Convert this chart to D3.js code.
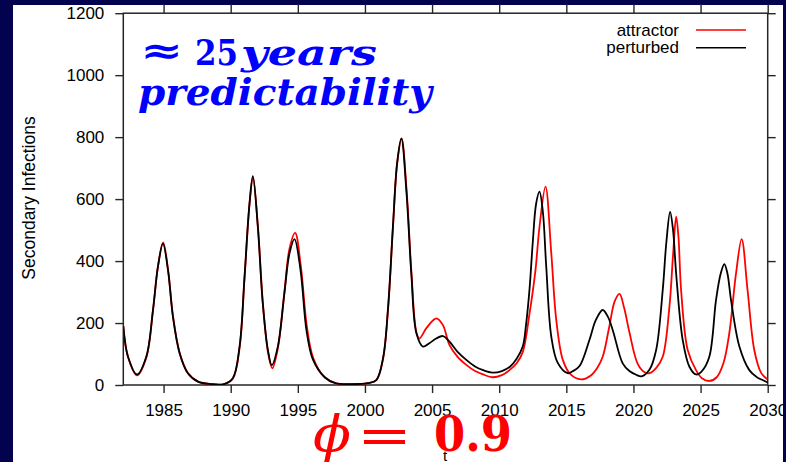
<!DOCTYPE html>
<html>
<head>
<meta charset="utf-8">
<script src="https://cdn.jsdelivr.net/npm/d3@7"></script>
<style>
  html, body { margin: 0; padding: 0; background: #02024f; }
  svg { display: block; }
  .tick text { font-family: "Liberation Sans", Arial, sans-serif; font-size: 17px; fill: #000; }
</style>
</head>
<body>
<svg id="chart" width="786" height="462"></svg>
<script>
// Axis ticks
const xTickYears = [1985, 1990, 1995, 2000, 2005, 2010, 2015, 2020, 2025, 2030];
const yTickValues = [0, 200, 400, 600, 800, 1000, 1200];

// Series: attractor trajectory (red)
const attractorYears = [
  1982.0, 1982.35, 1983.02, 1983.71, 1984.21, 1984.58, 1984.97, 1985.33, 1985.7, 1986.2,
  1986.81, 1987.56, 1988.5, 1989.5, 1990.16, 1990.66, 1991.03, 1991.4, 1991.66, 1992.02,
  1992.39, 1992.77, 1993.1, 1993.51, 1994.0, 1994.38, 1994.8, 1995.22, 1995.67, 1996.14,
  1997.0, 1997.8, 1999.0, 2000.2, 2000.85, 2001.35, 2001.72, 2002.09, 2002.4, 2002.73,
  2003.1, 2003.46, 2003.83, 2004.05, 2004.6, 2005.32, 2005.8, 2006.3, 2006.9, 2007.55,
  2008.2, 2008.8, 2009.5, 2010.2, 2010.77, 2011.3, 2011.76, 2012.26, 2012.7, 2013.0,
  2013.45, 2013.88, 2014.25, 2014.74, 2015.3, 2016.1, 2016.8, 2017.3, 2017.71, 2018.2,
  2018.6, 2018.96, 2019.3, 2019.7, 2020.3, 2020.8, 2021.2, 2021.7, 2022.18, 2022.68,
  2022.95, 2023.18, 2023.35, 2023.55, 2024.04, 2024.66, 2025.1, 2025.65, 2026.2, 2026.7,
  2027.14, 2027.64, 2028.06, 2028.5, 2029.0, 2029.5, 2029.87, 2030.0
];
const attractorValues = [
  190, 91, 31, 88, 240, 382, 460, 373, 222, 103,
  39, 11, 3, 3, 21, 120, 345, 582, 670, 515,
  268, 108, 54, 118, 300, 440, 491, 385, 190, 88,
  25, 6, 3, 6, 16, 85, 245, 512, 715, 795,
  630, 365, 170, 150, 185, 215, 194, 129, 91, 65,
  45, 34, 25, 32, 48, 70, 107, 231, 370, 510,
  640, 425, 210, 81, 35, 18, 30, 55, 91, 188,
  270, 294, 250, 170, 70, 42, 38, 55, 91, 253,
  420, 543, 480, 306, 113, 48, 22, 13, 25, 70,
  167, 360, 471, 306, 113, 40, 22, 18
];

// Series: perturbed trajectory (black)
const perturbedYears = [
  1982.0, 1982.35, 1983.02, 1983.71, 1984.21, 1984.58, 1984.95, 1985.33, 1985.7, 1986.2,
  1986.81, 1987.56, 1988.5, 1989.5, 1990.16, 1990.66, 1991.03, 1991.4, 1991.65, 1992.02,
  1992.39, 1992.77, 1993.06, 1993.51, 1994.0, 1994.38, 1994.75, 1995.2, 1995.65, 1996.12,
  1997.0, 1997.8, 1999.0, 2000.2, 2000.85, 2001.35, 2001.72, 2002.09, 2002.4, 2002.71,
  2003.09, 2003.46, 2003.83, 2004.32, 2004.8, 2005.3, 2005.81, 2006.3, 2006.9, 2007.55,
  2008.2, 2008.8, 2009.5, 2010.2, 2010.8, 2011.3, 2011.76, 2012.0, 2012.26, 2012.5,
  2012.75, 2013.0, 2013.25, 2013.5, 2013.88, 2014.35, 2015.1, 2015.5, 2016.0, 2016.72,
  2017.2, 2017.71, 2018.1, 2018.46, 2019.2, 2019.7, 2020.2, 2020.6, 2021.2, 2021.69,
  2022.18, 2022.45, 2022.73, 2022.95, 2023.18, 2023.67, 2024.17, 2024.66, 2025.1, 2025.65,
  2026.15, 2026.5, 2026.77, 2027.0, 2027.27, 2027.89, 2028.63, 2029.2, 2029.62, 2030.0
];
const perturbedValues = [
  190, 91, 34, 91, 242, 382, 457, 371, 220, 102,
  38, 11, 3, 3, 22, 124, 349, 586, 674, 511,
  263, 113, 64, 124, 296, 425, 471, 371, 175, 83,
  25, 6, 3, 6, 16, 87, 248, 516, 718, 796,
  624, 355, 168, 124, 135, 150, 158, 140, 107, 81,
  60, 48, 40, 45, 59, 85, 125, 195, 310, 460,
  585, 624, 560, 385, 156, 72, 38, 45, 62, 145,
  210, 242, 220, 177, 70, 45, 33, 28, 50, 113,
  306, 460, 559, 500, 360, 145, 59, 34, 45, 91,
  274, 360, 390, 360, 274, 124, 48, 25, 16, 8
];

const seriesNames = ["attractor", "perturbed"];
const seriesColors = ["#ff0000", "#000000"];

const svg = d3.select("#chart");
const W = 786, H = 462;

// White page panel
svg.append("rect")
  .attr("x", 13).attr("y", 5).attr("width", 770).attr("height", H - 5)
  .attr("fill", "#ffffff");

const plot = { left: 123.3, right: 767.7, top: 13.2, bottom: 385 };

const x = d3.scaleLinear().domain([1982, 2030]).range([plot.left, plot.right]);
const y = d3.scaleLinear().domain([0, 1200]).range([plot.bottom, plot.top]);

const defs = svg.append("defs");
defs.append("clipPath").attr("id", "plot-clip")
  .append("rect")
  .attr("x", plot.left).attr("y", plot.top)
  .attr("width", plot.right - plot.left).attr("height", plot.bottom - plot.top);
defs.append("clipPath").attr("id", "page-clip")
  .append("rect").attr("x", 13).attr("y", 0).attr("width", 770).attr("height", H);

const page = svg.append("g").attr("clip-path", "url(#page-clip)");

const axisColor = "#262626";
function styleAxis(g) {
  g.select(".domain").remove();
  g.selectAll(".tick line").attr("stroke", axisColor).attr("stroke-width", 1.4);
}

// Bottom axis with labels
page.append("g")
  .attr("transform", `translate(0,${plot.bottom})`)
  .call(d3.axisBottom(x).tickValues(xTickYears).tickFormat(d3.format("d"))
        .tickSize(8).tickSizeOuter(0).tickPadding(11))
  .call(styleAxis);

// Top axis: mirrored ticks only
page.append("g")
  .attr("transform", `translate(0,${plot.top})`)
  .call(d3.axisTop(x).tickValues(xTickYears).tickFormat("")
        .tickSize(9).tickSizeOuter(0))
  .call(styleAxis);

// Left axis with labels
page.append("g")
  .attr("transform", `translate(${plot.left},0)`)
  .call(d3.axisLeft(y).tickValues(yTickValues).tickFormat(d3.format("d"))
        .tickSize(8).tickSizeOuter(0).tickPadding(11))
  .call(styleAxis);

// Right axis: mirrored ticks only
page.append("g")
  .attr("transform", `translate(${plot.right},0)`)
  .call(d3.axisRight(y).tickValues(yTickValues).tickFormat("")
        .tickSize(8).tickSizeOuter(0))
  .call(styleAxis);

// Plot border
page.append("rect")
  .attr("x", plot.left).attr("y", plot.top)
  .attr("width", plot.right - plot.left).attr("height", plot.bottom - plot.top)
  .attr("fill", "none").attr("stroke", axisColor).attr("stroke-width", 1.5);

// Axis titles
page.append("text")
  .attr("transform", `translate(35,198) rotate(-90)`)
  .attr("text-anchor", "middle")
  .attr("font-family", "Liberation Sans, Arial, sans-serif")
  .attr("font-size", 17.5)
  .text("Secondary Infections");

page.append("text")
  .attr("x", 445).attr("y", 461)
  .attr("text-anchor", "middle")
  .attr("font-family", "Liberation Sans, Arial, sans-serif")
  .attr("font-size", 15)
  .text("t");

// Curves
const line = d3.line()
  .x(d => x(d[0]))
  .y(d => y(d[1]))
  .curve(d3.curveCatmullRom.alpha(0.5));

const seriesData = [
  d3.zip(attractorYears, attractorValues),
  d3.zip(perturbedYears, perturbedValues)
];

const lines = page.append("g").attr("clip-path", "url(#plot-clip)");
seriesData.forEach((pts, i) => {
  lines.append("path")
    .datum(pts)
    .attr("fill", "none")
    .attr("stroke", seriesColors[i])
    .attr("stroke-width", 1.8)
    .attr("stroke-linejoin", "round")
    .attr("d", line);
});

// Legend
const legend = page.append("g");
seriesNames.forEach((name, i) => {
  const ly = 30 + i * 17.7;
  legend.append("text")
    .attr("x", 679).attr("y", ly + 5.5)
    .attr("text-anchor", "end")
    .attr("font-family", "Liberation Sans, Arial, sans-serif")
    .attr("font-size", 17)
    .text(name);
  legend.append("line")
    .attr("x1", 696).attr("x2", 746)
    .attr("y1", ly).attr("y2", ly)
    .attr("stroke", seriesColors[i]).attr("stroke-width", 1.6);
});

// Annotation: predictability horizon
const serif = "DejaVu Serif, Liberation Serif, serif";
const blue = "#0000ff";
page.append("text")
  .attr("x", 140).attr("y", 63)
  .attr("font-family", serif).attr("font-weight", "bold")
  .attr("font-size", 36).attr("fill", blue)
  .attr("textLength", 43).attr("lengthAdjust", "spacingAndGlyphs")
  .text("≈");
page.append("text")
  .attr("x", 195).attr("y", 65)
  .attr("font-family", serif).attr("font-weight", "bold")
  .attr("font-size", 35).attr("fill", blue)
  .attr("textLength", 43).attr("lengthAdjust", "spacingAndGlyphs")
  .text("25");
page.append("text")
  .attr("x", 241).attr("y", 65)
  .attr("font-family", serif).attr("font-weight", "bold").attr("font-style", "italic")
  .attr("font-size", 36).attr("fill", blue)
  .attr("textLength", 136).attr("lengthAdjust", "spacingAndGlyphs")
  .text("years");
page.append("text")
  .attr("x", 138).attr("y", 105)
  .attr("font-family", serif).attr("font-weight", "bold").attr("font-style", "italic")
  .attr("font-size", 37).attr("fill", blue)
  .attr("textLength", 294).attr("lengthAdjust", "spacingAndGlyphs")
  .text("predictability");

// Annotation: coupling parameter
const red = "#ff0000";
page.append("text")
  .attr("x", 313).attr("y", 451)
  .attr("font-family", serif).attr("font-style", "italic")
  .attr("font-size", 50).attr("fill", red)
  .attr("textLength", 38).attr("lengthAdjust", "spacingAndGlyphs")
  .text("ϕ");
page.append("text")
  .attr("x", 357).attr("y", 453)
  .attr("font-family", serif)
  .attr("font-size", 50).attr("fill", red)
  .attr("textLength", 55).attr("lengthAdjust", "spacingAndGlyphs")
  .text("=");
page.append("text")
  .attr("x", 434).attr("y", 451)
  .attr("font-family", serif).attr("font-weight", "bold")
  .attr("font-size", 48).attr("fill", red)
  .attr("textLength", 78).attr("lengthAdjust", "spacingAndGlyphs")
  .text("0.9");
</script>
</body>
</html>
